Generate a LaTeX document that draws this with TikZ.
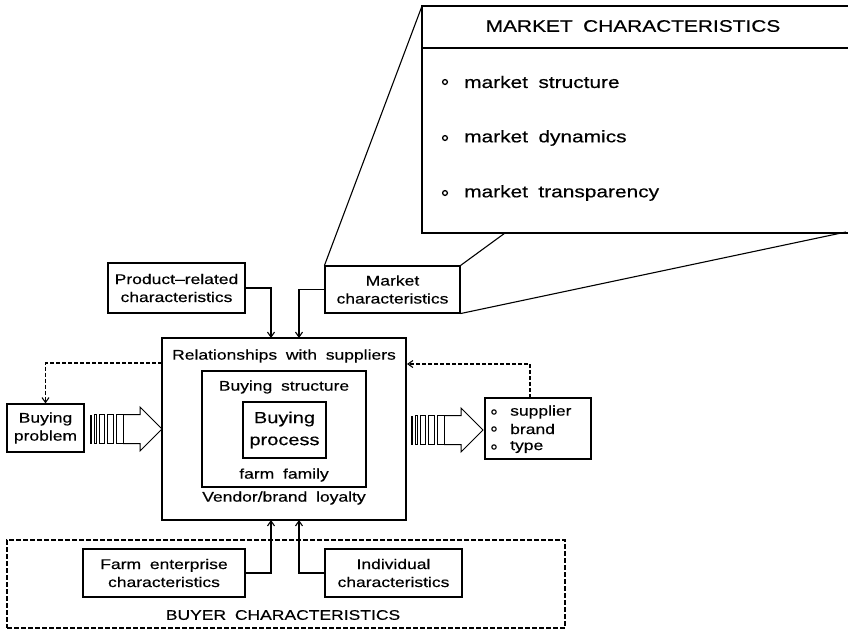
\documentclass[tikz,border=0pt]{standalone}
\usepackage{fontspec}
\setmainfont[FakeStretch=1.25,WordSpace=1.8,FakeBold=0.4]{Liberation Sans}
\usetikzlibrary{arrows.meta}

\tikzset{
  txt/.style={inner sep=0pt, align=center, font=\fontsize{14}{18}\selectfont},
  box/.style={txt, draw, line width=1.1pt},
  bigtxt/.style={inner sep=0pt, font=\fontsize{16.7}{20}\selectfont},
  conn/.style={line width=1.1pt, -{Straight Barb[length=5pt,width=7pt]}},
  dconn/.style={conn, dash pattern=on 4pt off 2pt},
  dashedframe/.style={draw, line width=1.1pt, dash pattern=on 5pt off 2pt},
  dot/.style={line width=1.3pt},
  blockarrow/.pic={
    \fill (0,-14.5) rectangle (2,14.5);
    \draw[line width=1pt] (4.5,-14.5) rectangle (6.5,14.5);
    \draw[line width=1pt] (9,-14.5) rectangle (14,14.5);
    \draw[line width=1pt] (17,-14.5) rectangle (23,14.5);
    \draw[line width=1pt] (26,-14.5) rectangle (33,14.5);
    \draw[line width=1pt, line join=miter] (33,-14.5) -- (50,-14.5) -- (50,-22) -- (72,0)
      -- (50,22) -- (50,14.5) -- (33,14.5);
  }
}

\begin{document}
\begin{tikzpicture}[x=1pt,y=-1pt]
\useasboundingbox (0,0) rectangle (848,630);

% enlarged view of the market characteristics
\coordinate (bigNW) at (422,6);
\coordinate (bigSW) at (422,233);
\coordinate (bigNE) at (848,6);
\coordinate (bigSE) at (848,233);
\coordinate (bigB) at (505,233);
\draw[line width=1.1pt] (bigNE) -- (bigNW) -- (bigSW) -- (bigSE);
\draw[line width=1.1pt] (422,48) -- (848,48);
\node[bigtxt] (mtitle) at (633,26) {MARKET CHARACTERISTICS};
\node[bigtxt, anchor=west] (mi1) at (464,82) {market structure};
\node[bigtxt, anchor=west] (mi2) at (464,138) {market dynamics};
\node[bigtxt, anchor=west] (mi3) at (464,193) {market transparency};
\foreach \yy in {82,138,193} \draw[dot] (445,\yy) circle (2.4pt);

% influence boxes
\node[box, minimum width=137pt, minimum height=50pt] (prod) at (176.5,288) {Product--related\\characteristics};
\node[box, minimum width=135pt, minimum height=47pt] (mkt) at (392.5,289.5) {Market\\characteristics};

% projection lines
\draw[line width=1.1pt] (mkt.north west) -- (bigNW);
\draw[line width=1.1pt] (mkt.north east) -- (bigB);
\draw[line width=1.1pt] (mkt.south east) -- (846,232);

% central box
\node[draw, line width=2.2pt, minimum width=244pt, minimum height=182pt] (main) at (284,429) {};
\node[draw, line width=1.1pt, minimum width=164pt, minimum height=116pt] (struct) at (284,429) {};
\node[box, font=\fontsize{16}{22}\selectfont, minimum width=83pt, minimum height=56pt] (proc) at (284.5,430) {Buying\\process};
\node[txt] (rel) at (284,356) {Relationships with suppliers};
\node[txt] (bstr) at (284,387) {Buying structure};
\node[txt] (ff) at (284,475) {farm family};
\node[txt] (vbl) at (284,498) {Vendor/brand loyalty};

% buying problem and outcome
\node[box, minimum width=77pt, minimum height=48pt] (prob) at (45.5,428) {Buying\\problem};
\node[box, minimum width=106pt, minimum height=61pt] (sup) at (538,428.5) {};
\node[txt, anchor=west] (s1) at (510,412) {supplier};
\node[txt, anchor=west] (s2) at (510,429) {brand};
\node[txt, anchor=west] (s3) at (510,447) {type};
\foreach \yy in {412,429,447} \draw[line width=1.1pt] (494,\yy) circle (2.2pt);

\pic at (90,429) {blockarrow};
\pic at (411,430) {blockarrow};

% buyer characteristics
\node[dashedframe, minimum width=558pt, minimum height=88pt] (buyer) at (286,584) {};
\node[box, minimum width=162pt, minimum height=48pt] (farm) at (164,573) {Farm enterprise\\characteristics};
\node[box, minimum width=137pt, minimum height=48pt] (indiv) at (393.5,573) {Individual\\characteristics};
\node[txt] (bc) at (283,615) {BUYER CHARACTERISTICS};

% connectors
\coordinate (inA) at (271,338);
\coordinate (inB) at (299,338);
\coordinate (inC) at (271,520);
\coordinate (inD) at (299,520);
\draw[conn] (prod.east) -| (inA);
\draw[conn] (mkt.west) -| (inB);
\draw[conn] (farm.east) -| (inC);
\draw[conn] (indiv.west) -| (inD);

\coordinate (fbL) at (162,363);
\coordinate (fbR) at (407,364);
\coordinate (supTop) at (530,398);
\draw[dconn] (fbL) -| (prob.north);
\draw[dconn] (supTop) |- (fbR);
\end{tikzpicture}
\end{document}
